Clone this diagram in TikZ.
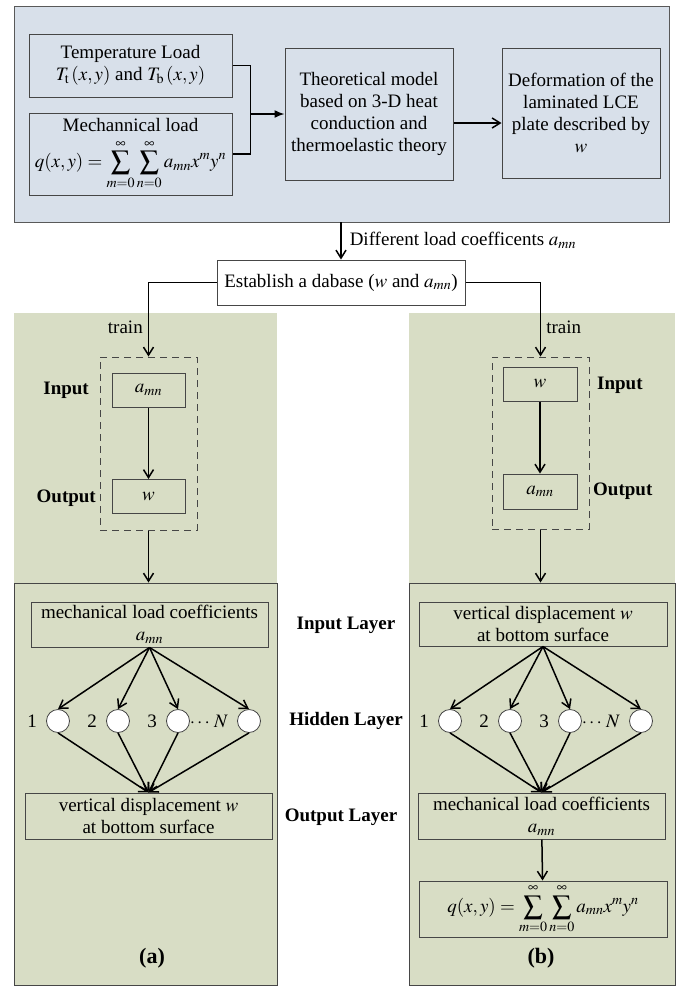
\documentclass[tikz,border=0pt]{standalone}
\usepackage{mathptmx}
\usepackage{fontspec}
\setmainfont{Liberation Serif}
\usetikzlibrary{arrows.meta}
\definecolor{bluebg}{RGB}{216,224,234}
\definecolor{greenbg}{RGB}{216,221,197}
\definecolor{edge}{RGB}{70,70,70}
\begin{document}
\begin{tikzpicture}[x=1pt,y=-1pt,
		every node/.style={font=\fontsize{19}{22}\selectfont,inner sep=0pt},
		box/.style={draw=edge,line width=1pt,fill=#1,align=center},
		box/.default=greenbg,
		dashbox/.style={draw=edge,line width=1pt,dash pattern=on 7pt off 5pt},
		arr/.style={line width=1.5pt,-{Straight Barb[length=8pt,width=10pt,line width=1.5pt]}},
		neuron/.style={circle,draw=edge,fill=white,minimum size=23pt,line width=0.8pt},
		layer/.style={font=\fontsize{19}{22}\selectfont\bfseries}
	]
	\useasboundingbox[fill=white] (0,0) rectangle (676,986);
	% top part
	\draw[draw=gray!70!black,fill=bluebg,line width=1pt] (14,6) rectangle (669,222);
	\coordinate (bluebot) at (341,222);
	\node[box=bluebg,minimum width=203pt,minimum height=63pt] (temp) at (130.5,65.5)
		{Temperature Load\\ $T_{\mathrm{t}}\,(x, y)$ and $T_{\mathrm{b}}\,(x, y)$};
	\node[box=bluebg,minimum width=203pt,minimum height=82pt] (mech) at (130.5,154)
		{Mechannical load\\[7pt] $q(x, y)=\displaystyle\sum_{m=0}^{\infty}\sum_{n=0}^{\infty}a_{mn}x^m y^n$};
	\node[box=bluebg,minimum width=168pt,minimum height=132pt] (theo) at (369,114)
		{Theoretical model\\ based on 3-D heat\\ conduction and\\ thermoelastic theory};
	\node[box=bluebg,minimum width=158pt,minimum height=130pt] (defo) at (581,113)
		{Deformation of the\\ laminated LCE\\ plate described by\\ $w$};
	\draw[line width=1.5pt] (temp.east) -- ++(18,0) coordinate (brtop) |- (mech.east);
	\draw[line width=1.5pt,-{Latex[length=10pt,width=8pt]}] (brtop |- theo.west) -- (theo.west);
	\draw[arr] ([yshift=-9pt]theo.east) -- ([yshift=-9pt]theo.east -| defo.west);

	\node[box=white,minimum width=248pt,minimum height=45pt] (dbase) at (341,282.5)
		{Establish a dabase ($w$ and $a_{mn}$)};
	\draw[arr] (bluebot) -- node[right=8pt] (difflab) {Different load coefficents $a_{mn}$} (dbase.north);

	% panels
	\fill[greenbg] (14,313) rectangle (277,583);
	\fill[greenbg] (409,313) rectangle (675,583);
	\node[draw=edge,line width=1pt,fill=greenbg,minimum width=263pt,minimum height=402pt] (netA) at (145.5,784) {};
	\node[draw=edge,line width=1pt,fill=greenbg,minimum width=266pt,minimum height=402pt] (netB) at (542,784) {};

	% training boxes
	\node[dashbox,minimum width=97pt,minimum height=173pt] (dashA) at (148.5,443.5) {};
	\node[dashbox,minimum width=97pt,minimum height=172pt] (dashB) at (540.5,443) {};
	\draw[arr] (dbase.west) -| node[pos=0.8,left=5pt] (trainA) {train} (dashA.north);
	\draw[arr] (dbase.east) -| node[pos=0.8,right=5pt] (trainB) {train} (dashB.north);

	\node[box,minimum width=73pt,minimum height=34pt] (inA) at (148.5,390) {$a_{mn}$};
	\node[box,minimum width=73pt,minimum height=34pt] (outA) at (148.5,496.5) {$w$};
	\node[box,minimum width=74pt,minimum height=34pt] (inB) at (540,384) {$w$};
	\node[box,minimum width=74pt,minimum height=35pt] (outB) at (540,491.5) {$a_{mn}$};
	\draw[arr] (inA) -- (outA);
	\draw[arr] (inB) -- (outB);
	\node[layer,anchor=east] (inAlab) at (89,390) {Input};
	\node[layer,anchor=east] (outAlab) at (96,498) {Output};
	\node[layer,anchor=west] (inBlab) at (597,385) {Input};
	\node[layer,anchor=west] (outBlab) at (593,491) {Output};
	\draw[arr] (dashA.south) -- (dashA.south |- netA.north);
	\draw[arr] (dashB.south) -- (dashB.south |- netB.north);

	% networks
	\node[box,minimum width=237pt,minimum height=45pt] (ilA) at (149.5,624.5)
		{mechanical load coefficients\\ $a_{mn}$};
	\node[box,minimum width=248pt,minimum height=44pt] (ilB) at (543,624)
		{vertical displacement $w$\\ at bottom surface};
	\node[box,minimum width=247pt,minimum height=46pt] (olA) at (148.5,816)
		{vertical displacement $w$\\ at bottom surface};
	\node[box,minimum width=247pt,minimum height=46pt] (olB) at (541.5,816)
		{mechanical load coefficients\\ $a_{mn}$};
	\node[box,minimum width=248pt,minimum height=56pt] (qB) at (543,909)
		{$q(x, y)=\displaystyle\sum_{m=0}^{\infty}\sum_{n=0}^{\infty}a_{mn}x^m y^n$};
	\draw[arr] (olB) -- (qB);

	\foreach \i/\x/\t in {1/58/1,2/118/2,3/178/3,4/249/{$\cdots\,N$}} {
		\node[neuron,label={[label distance=9pt]left:\t}] (hA\i) at (\x,721) {};
		\node[neuron,label={[label distance=9pt]left:\t}] (hB\i) at (\x+392,721) {};
		\draw[arr] (ilA.south) -- (hA\i.north);
		\draw[arr] (hA\i.south) -- (olA.north);
		\draw[arr] (ilB.south) -- (hB\i.north);
		\draw[arr] (hB\i.south) -- (olB.north);
	}

	\node[layer] (ilLab) at (346,625) {Input Layer};
	\node[layer] (hlLab) at (346,721) {Hidden Layer};
	\node[layer] (olLab) at (341,817) {Output Layer};
	\node[font=\fontsize{22}{26}\selectfont\bfseries] (capA) at (152,958) {(a)};
	\node[font=\fontsize{22}{26}\selectfont\bfseries] (capB) at (541,958) {(b)};
\end{tikzpicture}
\end{document}
